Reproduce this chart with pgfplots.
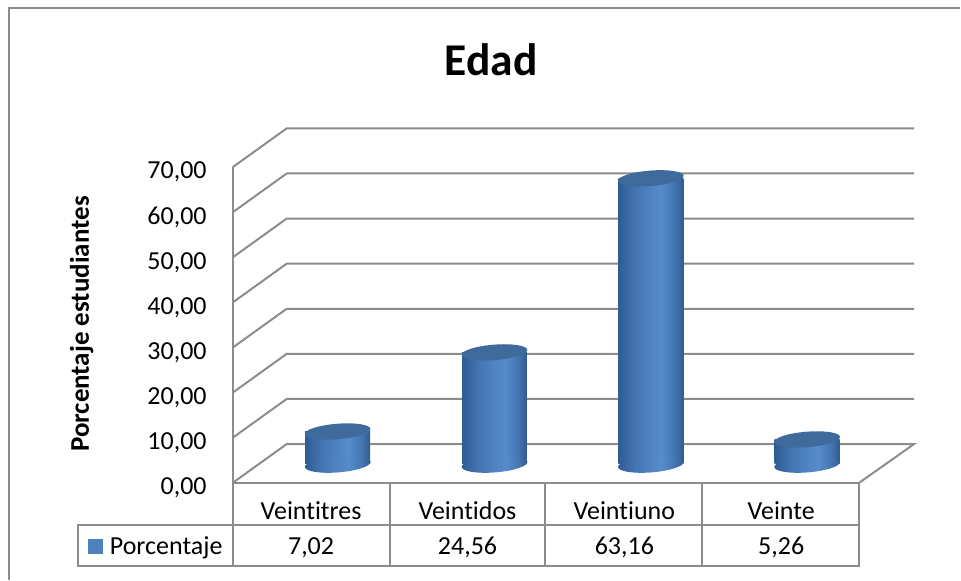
\documentclass[border=0pt]{standalone}
\usepackage{fontspec}
\setmainfont[Ligatures=NoCommon]{Carlito}
\usepackage{pgfplots}
\usetikzlibrary{shapes.geometric}
\pgfplotsset{compat=1.18}
\definecolor{wall}{HTML}{8C8C8C}
\definecolor{frameg}{HTML}{8C8C8C}
\definecolor{barblue}{HTML}{4F81BD}
\definecolor{cyltopc}{HTML}{3F6A9C}
\pgfdeclarehorizontalshading{cyl}{100bp}{rgb(0bp)=(0.18,0.36,0.58);rgb(25bp)=(0.18,0.36,0.58);rgb(38bp)=(0.27,0.46,0.70);rgb(58bp)=(0.34,0.55,0.80);rgb(68bp)=(0.27,0.46,0.70);rgb(75bp)=(0.19,0.36,0.56);rgb(100bp)=(0.19,0.36,0.56)}
\pgfplotsset{
  cylbar/.style={forget plot, ybar, bar width=65pt, bar shift=0pt, draw=none, shade, shading=cyl},
  wallline/.style={forget plot, wall, line width=2pt},
  basenode/.style={forget plot, only marks, mark=none, nodes near coords={},
    every node near coord/.style={shape=ellipse, shade, shading=cyl, minimum width=66pt, minimum height=16pt, inner sep=0pt, anchor=center, rotate=4.5, yshift=-1pt}},
  topnode/.style={forget plot, only marks, mark=none, nodes near coords={},
    every node near coord/.style={shape=ellipse, fill=cyltopc, minimum width=66pt, minimum height=15.5pt, inner sep=0pt, anchor=center, rotate=4.5, yshift=0.3pt}},
}
\begin{document}
\begin{tikzpicture}
\begin{axis}[
  scale only axis, width=627pt, height=316pt,
  xmin=233, xmax=860, ymin=-4.3, ymax=65.7,
  clip=false,
  axis x line=bottom, axis y line=left,
  axis line style={draw=wall, line width=2pt, -},
  major tick length=0pt,
  xtick={311.4,468,625,782},
  xticklabels={Veintitres,Veintidos,Veintiuno,Veinte},
  ytick={-4.3,5.7,15.7,25.7,35.7,45.7,55.7,65.7},
  yticklabels={{0,00},{10,00},{20,00},{30,00},{40,00},{50,00},{60,00},{70,00}},
  /pgf/number format/assume math mode=true,
  tick label style={font=\fontsize{26}{30}\selectfont},
  xticklabel style={anchor=base, yshift=-36.5pt, inner sep=0pt},
  yticklabel style={anchor=east, xshift=-26pt, yshift=-5pt, inner sep=0pt},
  title={Edad},
  title style={at={(0.4125,1.32)}, anchor=center, font=\fontsize{45.5}{50}\selectfont\bfseries},
  ylabel={Porcentaje estudiantes},
  ylabel style={at={(-0.241,0.503)}, anchor=center, font=\fontsize{27}{30}\selectfont\bfseries},
  legend style={at={(axis cs:88,-18.4)}, anchor=west, draw=none, fill=none, inner sep=0pt, outer sep=0pt,
    font=\fontsize{26}{30}\selectfont, legend cell align=left},
]
% walls
\addplot[wallline] coordinates {(233,-4.3) (287,4.3) (915,4.3) (860,-4.3)};
\addplot[wallline] coordinates {(233,5.7) (287,14.3) (915,14.3)};
\addplot[wallline] coordinates {(233,15.7) (287,24.3) (915,24.3)};
\addplot[wallline] coordinates {(233,25.7) (287,34.3) (915,34.3)};
\addplot[wallline] coordinates {(233,35.7) (287,44.3) (915,44.3)};
\addplot[wallline] coordinates {(233,45.7) (287,54.3) (915,54.3)};
\addplot[wallline] coordinates {(233,55.7) (287,64.3) (915,64.3)};
\addplot[wallline] coordinates {(233,65.7) (287,74.3) (915,74.3)};
% cylinder bottoms
\addplot[basenode] coordinates {(338,0) (495,0) (651.5,0) (808,0)};
% bodies
\addplot[cylbar] coordinates {(338,7.02)};
\addplot[cylbar] coordinates {(495,24.56)};
\addplot[cylbar] coordinates {(651.5,63.16)};
\addplot[cylbar] coordinates {(808,5.26)};
% cylinder tops
\addplot[topnode] coordinates {(338,7.02) (495,24.56) (651.5,63.16) (808,5.26)};
\addlegendimage{legend image code/.code={\fill[barblue, draw=none] (0pt,-7.5pt) rectangle (15pt,7.5pt); \path[draw=none, fill=none] (0pt,0pt) -- (20pt,0pt);}}
\addlegendentry{Porcentaje}
% data table
\draw[wall, line width=2pt] (axis cs:78,-13.6) rectangle (axis cs:860,-22.68);
\draw[wall, line width=2pt] (axis cs:233,-4.3) -- (axis cs:233,-22.68);
\draw[wall, line width=2pt] (axis cs:390,-4.3) -- (axis cs:390,-22.68);
\draw[wall, line width=2pt] (axis cs:546,-4.3) -- (axis cs:546,-22.68);
\draw[wall, line width=2pt] (axis cs:703,-4.3) -- (axis cs:703,-22.68);
\draw[wall, line width=2pt] (axis cs:860,-4.3) -- (axis cs:860,-22.68);
\node[anchor=base, inner sep=0pt, font=\fontsize{26}{30}\selectfont] at (axis cs:311.4,-20.3) {7,02};
\node[anchor=base, inner sep=0pt, font=\fontsize{26}{30}\selectfont] at (axis cs:468,-20.3) {24,56};
\node[anchor=base, inner sep=0pt, font=\fontsize{26}{30}\selectfont] at (axis cs:625,-20.3) {63,16};
\node[anchor=base, inner sep=0pt, font=\fontsize{26}{30}\selectfont] at (axis cs:782,-20.3) {5,26};
% outer frame
\draw[frameg, line width=2pt] (axis cs:9,-25.77) -- (axis cs:9,100.9) -- (axis cs:961,100.9);
\path[use as bounding box] (axis cs:0,-25.77) rectangle (axis cs:961,102.77);
\end{axis}
\end{tikzpicture}
\end{document}
